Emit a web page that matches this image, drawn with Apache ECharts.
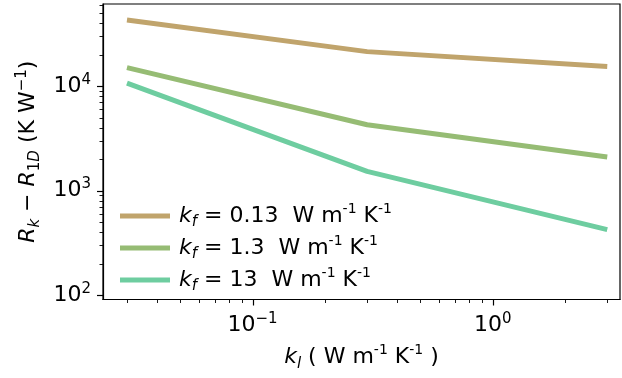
<!DOCTYPE html>
<html><head><meta charset="utf-8">
<script src="https://cdn.jsdelivr.net/npm/echarts@6/dist/echarts.min.js"></script>
<style>html,body{margin:0;padding:0;background:#fff}#c{width:622px;height:378px}</style>
</head><body><div id="c"></div>
<script>
// ---- data ----
const kl = [0.03, 0.3, 3];
const kfLabels = ['0.13', '1.3', '13'];
const rkKf013 = [43000, 21400, 15400];
const rkKf13 = [15060, 4270, 2100];
const rkKf130 = [10700, 1530, 424];
const xMajorTicks = [0.1, 1];
const xMinorTicks = [0.03, 0.04, 0.05, 0.06, 0.07, 0.08, 0.09, 0.2, 0.3, 0.4, 0.5, 0.6, 0.7, 0.8, 0.9, 2, 3];
const yMajorTicks = [100, 1000, 10000];
const yMinorTicks = [200, 300, 400, 500, 600, 700, 800, 900, 2000, 3000, 4000, 5000, 6000, 7000, 8000, 9000, 20000, 30000, 40000, 50000, 60000];
const xRange = [0.02384, 3.39];
const yRange = [91, 61100];

const colors = ['#c0a46c', '#96bc74', '#6ecda0'];
const FONT = 'DejaVu Sans';
const FS = 22;

const allSeries = [rkKf013, rkKf13, rkKf130];
const names = kfLabels.map(k => 'kf' + k);

const chart = echarts.init(document.getElementById('c'), null, {renderer: 'canvas'});

function expLabel(v) {
  const e = Math.round(Math.log10(v));
  return '{n|10}{s|' + String(e).replace('-', '\u2212') + '}';
}

const supStyle = {fontFamily: FONT, fontSize: 15, lineHeight: 15, verticalAlign: 'top', color: '#000'};
const sup2Style = {fontFamily: FONT, fontSize: 14, lineHeight: 14, verticalAlign: 'top', color: '#000'};
const subStyle = {fontFamily: FONT, fontSize: 15, lineHeight: 15, verticalAlign: 'bottom', color: '#000'};
const subItStyle = Object.assign({}, subStyle, {fontStyle: 'italic'});
const mainStyle = {fontFamily: FONT, fontSize: FS, lineHeight: 28, color: '#000'};
const itStyle = Object.assign({}, mainStyle, {fontStyle: 'italic'});
const unitTxt = '{t| W m}{p|-1}{t| K}{p|-1}';

const option = {
  animation: false,
  backgroundColor: '#fff',
  color: colors,
  grid: {left: 103, right: 2, top: 4, bottom: 78.5, show: true, borderColor: '#000', borderWidth: 1.2, backgroundColor: 'transparent'},
  xAxis: {
    type: 'log', logBase: 10, min: xRange[0], max: xRange[1],
    axisLine: {show: true, lineStyle: {color: '#000', width: 1.2}},
    axisTick: {show: false},
    splitLine: {show: false},
    axisLabel: {
      showMinLabel: false, showMaxLabel: false, margin: 12,
      formatter: v => expLabel(v),
      rich: {n: mainStyle, s: supStyle}
    },
    name: '{i|k}{b|l}{t| (}' + unitTxt + '{t| )}',
    nameLocation: 'middle', nameGap: 44,
    nameTextStyle: {rich: {i: itStyle, b: subItStyle, t: mainStyle, p: sup2Style}}
  },
  yAxis: {
    type: 'log', logBase: 10, min: yRange[0], max: yRange[1],
    axisLine: {show: true, lineStyle: {color: '#000', width: 1.2}},
    axisTick: {show: false},
    splitLine: {show: false},
    axisLabel: {
      showMinLabel: false, showMaxLabel: false, margin: 12,
      formatter: v => expLabel(v),
      rich: {n: mainStyle, s: supStyle}
    },
    name: '{i|R}{b|k}{t| \u2212 }{i|R}{c|1}{b|D}{t| (K W}{s|\u22121}{t|)}',
    nameLocation: 'middle', nameGap: 60, nameRotate: 90,
    nameTextStyle: {rich: {i: itStyle, b: subItStyle, c: subStyle, t: mainStyle, s: supStyle}}
  },
  legend: {
    orient: 'vertical', left: 120, top: 202, padding: 0, itemGap: 4,
    itemWidth: 50, itemHeight: 5, icon: 'rect',
    data: names,
    formatter: n => {
      const k = n.slice(2);
      return '{i|k}{b|f}{t| = ' + k + ' }' + unitTxt;
    },
    textStyle: {padding: [0, 0, 0, 4], rich: {i: itStyle, b: subItStyle, t: mainStyle, p: sup2Style}}
  },
  series: allSeries.map((vals, i) => ({
    name: names[i], type: 'line', showSymbol: false, symbol: 'none',
    lineStyle: {width: 5, color: colors[i]},
    itemStyle: {color: colors[i]},
    data: kl.map((x, j) => [x, vals[j]])
  }))
};
chart.setOption(option);

// ticks drawn through the axes' own scales
function drawTicks() {
  const els = [];
  const y0 = chart.convertToPixel({yAxisIndex: 0}, yRange[0]);
  const x0 = chart.convertToPixel({xAxisIndex: 0}, xRange[0]);
  const add = (shape, w) => els.push({type: 'line', shape, style: {stroke: '#000', lineWidth: w}, silent: true, z: 10});
  xMajorTicks.forEach(v => { const x = Math.round(chart.convertToPixel({xAxisIndex: 0}, v)) + 0.5; add({x1: x, y1: y0, x2: x, y2: y0 + 6}, 1.2); });
  xMinorTicks.forEach(v => { const x = Math.round(chart.convertToPixel({xAxisIndex: 0}, v)) + 0.5; add({x1: x, y1: y0, x2: x, y2: y0 + 3.5}, 0.9); });
  yMajorTicks.forEach(v => { const y = Math.round(chart.convertToPixel({yAxisIndex: 0}, v)) + 0.5; add({x1: x0, y1: y, x2: x0 - 6, y2: y}, 1.2); });
  yMinorTicks.forEach(v => { const y = Math.round(chart.convertToPixel({yAxisIndex: 0}, v)) + 0.5; add({x1: x0, y1: y, x2: x0 - 3.5, y2: y}, 0.9); });
  chart.setOption({graphic: {elements: els}});
}
drawTicks();
</script>
</body></html>
